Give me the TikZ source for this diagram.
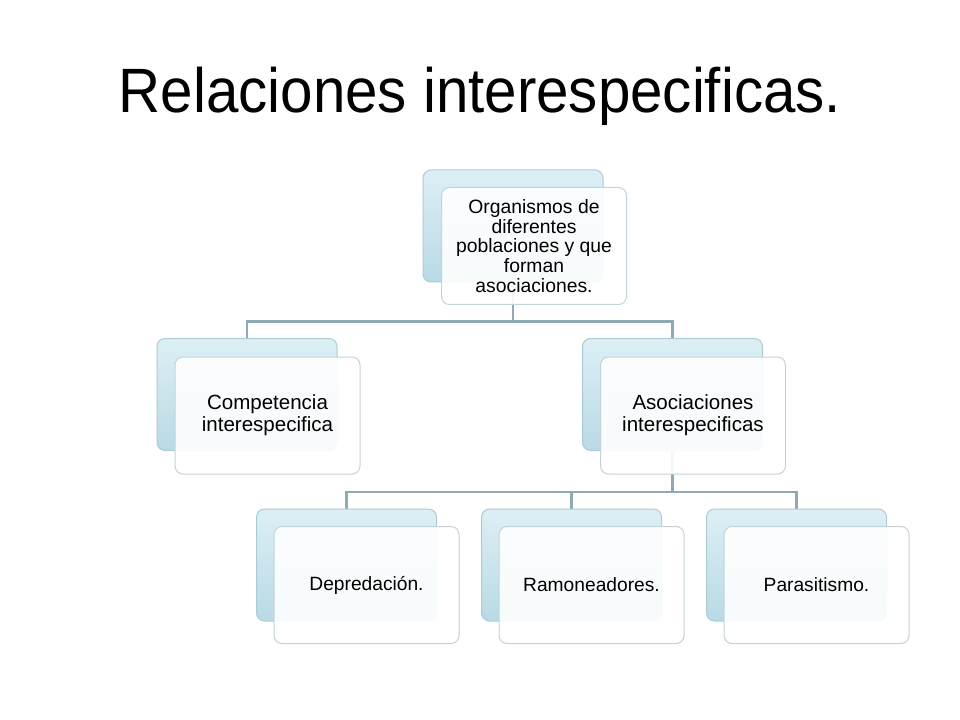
\documentclass[tikz,border=0pt]{standalone}
\usepackage{fontspec}
\setmainfont{Liberation Sans}
\usetikzlibrary{backgrounds}
\definecolor{linea}{HTML}{8FAAB3}
\definecolor{fondoA}{HTML}{DDEFF5}
\definecolor{fondoB}{HTML}{B8DAE5}
\definecolor{bordeA}{HTML}{ABCCD7}
\definecolor{bordeB}{HTML}{C3D3D9}

\begin{document}
\begin{tikzpicture}[x=0.75pt,y=-0.75pt,
  atras/.style={rounded corners=6pt,top color=fondoA,bottom color=fondoB,draw=bordeA,line width=0.75pt,
    minimum width=135pt,minimum height=84pt,inner sep=0pt},
  frente/.style={rounded corners=6pt,fill=white,fill opacity=0.9,text opacity=1,draw=bordeB,line width=0.75pt,
    minimum width=138.75pt,minimum height=87.75pt,inner sep=0pt,align=center,
    font=\fontsize{14.4}{16.5}\selectfont},
  conn/.style={draw=linea,line width=2pt}]
\useasboundingbox (0,0) rectangle (960,720);
\node[font=\fontsize{47}{50}\selectfont,xscale=0.93,anchor=base] (titulo) at (480,113) {Relaciones interespecificas.};

 % nivel 1
 \node[atras] (orgb) at (513,226) {};
 \node[frente,font=\fontsize{14.5}{14.8}\selectfont] (org) at ([shift={(21,20)}]orgb.center)
   {Organismos de\\diferentes\\poblaciones y que\\forman\\asociaciones.};

 % nivel 2
 \node[atras] (compb) at (247,394.5) {};
 \node[frente,font=\fontsize{15.4}{16.5}\selectfont] (comp) at ([shift={(20.5,21)}]compb.center) {Competencia\\interespecifica};
 \node[atras] (asocb) at (672.5,394.5) {};
 \node[frente,font=\fontsize{15.4}{16.5}\selectfont] (asoc) at ([shift={(20.5,21)}]asocb.center) {Asociaciones\\interespecificas};

 % nivel 3
 \node[atras] (depb) at (346.5,565) {};
 \node[frente] (dep) at ([shift={(20,20)}]depb.center) {Depredación.};
 \node[atras] (ramb) at (571.5,565) {};
 \node[frente] (ram) at ([shift={(20,20)}]ramb.center) {Ramoneadores.};
 \node[atras] (parb) at (796.5,565) {};
 \node[frente] (par) at ([shift={(20,20)}]parb.center) {Parasitismo.};

 \begin{scope}[on background layer]
  \draw[conn] (orgb.south) -- ++(0,39) -| (compb.north);
  \draw[conn] (orgb.south) -- ++(0,39) -| (asocb.north);
  \draw[conn] (asocb.south) -- ++(0,41) -| (depb.north);
  \draw[conn] (asocb.south) -- ++(0,41) -| (ramb.north);
  \draw[conn] (asocb.south) -- ++(0,41) -| (parb.north);
 \end{scope}
\end{tikzpicture}
\end{document}
